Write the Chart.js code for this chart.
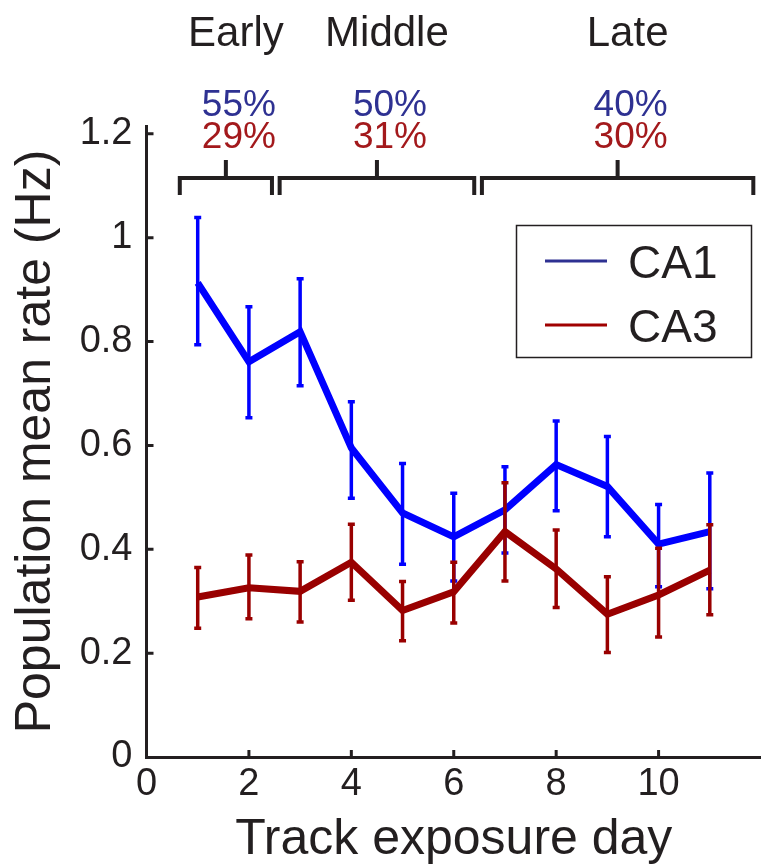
<!DOCTYPE html>
<html>
<head>
<meta charset="utf-8">
<script src="https://cdn.jsdelivr.net/npm/chart.js@4.4.1/dist/chart.umd.min.js"></script>
<style>
  html, body { margin: 0; padding: 0; background: #fff; }
</style>
</head>
<body>
<canvas id="rateChart" width="761" height="868"></canvas>
<script>
// values (mean +/- error per exposure day)
const days = [1, 2, 3, 4, 5, 6, 7, 8, 9, 10, 11];
const ca1Mean  = [0.913, 0.761, 0.819, 0.595, 0.470, 0.424, 0.476, 0.563, 0.521, 0.410, 0.434];
const ca1Upper = [1.039, 0.867, 0.921, 0.684, 0.565, 0.508, 0.559, 0.647, 0.617, 0.486, 0.547];
const ca1Lower = [0.794, 0.653, 0.715, 0.498, 0.371, 0.339, 0.393, 0.474, 0.424, 0.328, 0.324];
const ca3Mean  = [0.308, 0.326, 0.319, 0.375, 0.282, 0.318, 0.434, 0.362, 0.275, 0.312, 0.360];
const ca3Upper = [0.365, 0.389, 0.376, 0.448, 0.338, 0.375, 0.528, 0.437, 0.347, 0.402, 0.447];
const ca3Lower = [0.248, 0.266, 0.260, 0.302, 0.224, 0.258, 0.339, 0.288, 0.201, 0.231, 0.274];

const phaseNames = ['Early', 'Middle', 'Late'];
const phaseStart = [0.65, 2.6, 6.55];
const phaseEnd = [2.45, 6.4, 11.85];
const ca1Percent = ['55%', '50%', '40%'];
const ca3Percent = ['29%', '31%', '30%'];

const xTickValues = [0, 2, 4, 6, 8, 10];
const yTickValues = [0, 0.2, 0.4, 0.6, 0.8, 1, 1.2];
const yTickLabels = ['0', '0.2', '0.4', '0.6', '0.8', '1', '1.2'];

const FONT = '"Liberation Sans", Arial, Helvetica, sans-serif';
const INK = '#231f20';

const toPoints = (ys) => days.map((d, i) => ({ x: d, y: ys[i] }));

// error bars drawn right after each line so the red set sits on top of the blue one
const errorBars = {
    id: 'errorBars',
    afterDatasetDraw(chart, args) {
        const ds = chart.data.datasets[args.index];
        const xs = chart.scales.x, ys = chart.scales.y;
        const ctx = chart.ctx;
        ctx.save();
        ctx.strokeStyle = ds.borderColor;
        ctx.lineWidth = 3.5;
        ctx.lineCap = 'butt';
        ds.data.forEach((p, i) => {
            const px = xs.getPixelForValue(p.x);
            const top = ys.getPixelForValue(ds.upper[i]);
            const bot = ys.getPixelForValue(ds.lower[i]);
            ctx.beginPath();
            ctx.moveTo(px, top); ctx.lineTo(px, bot);
            ctx.moveTo(px - 3.5, top); ctx.lineTo(px + 3.5, top);
            ctx.moveTo(px - 3.5, bot); ctx.lineTo(px + 3.5, bot);
            ctx.stroke();
        });
        ctx.restore();
    }
};

// inward ticks, phase brackets, percentages and the boxed legend
const annotations = {
    id: 'annotations',
    afterDraw(chart) {
        const ctx = chart.ctx;
        const xs = chart.scales.x, ys = chart.scales.y;
        const area = chart.chartArea;
        ctx.save();
        ctx.strokeStyle = INK;
        ctx.lineWidth = 3;
        ctx.beginPath();
        yTickValues.slice(1).forEach(v => {
            const py = ys.getPixelForValue(v);
            ctx.moveTo(area.left, py); ctx.lineTo(area.left + 7, py);
        });
        xTickValues.slice(1).forEach(v => {
            const px = xs.getPixelForValue(v);
            ctx.moveTo(px, area.bottom); ctx.lineTo(px, area.bottom - 7);
        });
        ctx.stroke();

        // brackets
        const level = ys.getPixelForValue(1.115);
        ctx.lineWidth = 4;
        phaseNames.forEach((name, i) => {
            const x0 = xs.getPixelForValue(phaseStart[i]);
            const x1 = xs.getPixelForValue(phaseEnd[i]);
            const mid = (x0 + x1) / 2;
            ctx.beginPath();
            ctx.moveTo(x0, level + 17); ctx.lineTo(x0, level);
            ctx.lineTo(x1, level); ctx.lineTo(x1, level + 17);
            ctx.moveTo(mid, level); ctx.lineTo(mid, level - 18);
            ctx.stroke();

            ctx.textAlign = 'center';
            ctx.textBaseline = 'alphabetic';
            ctx.fillStyle = INK;
            ctx.font = '42px ' + FONT;
            ctx.fillText(name, mid + 10, 46);
            ctx.font = '37px ' + FONT;
            ctx.fillStyle = '#2e3192';
            ctx.fillText(ca1Percent[i], mid + 13, 116);
            ctx.fillStyle = '#a3191c';
            ctx.fillText(ca3Percent[i], mid + 13, 148);
        });

        // legend box
        ctx.lineWidth = 1.5;
        ctx.strokeStyle = INK;
        ctx.strokeRect(516.5, 225.5, 235, 132);
        const legendRows = [
            { label: chart.data.datasets[0].label, color: '#2e3192', y: 261 },
            { label: chart.data.datasets[1].label, color: '#a00000', y: 325 }
        ];
        ctx.font = '46px ' + FONT;
        ctx.textAlign = 'left';
        ctx.textBaseline = 'alphabetic';
        legendRows.forEach(r => {
            ctx.strokeStyle = r.color;
            ctx.lineWidth = 3;
            ctx.beginPath();
            ctx.moveTo(545, r.y); ctx.lineTo(607, r.y);
            ctx.stroke();
            ctx.fillStyle = INK;
            ctx.fillText(r.label, 628, r.y + 17);
        });
        ctx.restore();
    }
};

const ctx = document.getElementById('rateChart').getContext('2d');
new Chart(ctx, {
    type: 'line',
    data: {
        datasets: [
            {
                label: 'CA1',
                data: toPoints(ca1Mean),
                upper: ca1Upper,
                lower: ca1Lower,
                borderColor: '#0000ff',
                borderWidth: 7,
                pointRadius: 0,
                borderJoinStyle: 'miter',
                order: 1
            },
            {
                label: 'CA3',
                data: toPoints(ca3Mean),
                upper: ca3Upper,
                lower: ca3Lower,
                borderColor: '#990000',
                borderWidth: 7,
                pointRadius: 0,
                borderJoinStyle: 'miter',
                order: 0
            }
        ]
    },
    options: {
        responsive: false,
        animation: false,
        layout: { padding: { top: 126, right: 0, left: 0, bottom: 0 } },
        plugins: {
            legend: { display: false },
            tooltip: { enabled: false }
        },
        scales: {
            x: {
                type: 'linear',
                min: 0,
                max: 12,
                afterBuildTicks: s => { s.ticks = xTickValues.map(v => ({ value: v })); },
                afterFit: s => { s.height = 111; },
                grid: { display: false, drawTicks: false },
                border: { display: true, color: INK, width: 3 },
                ticks: {
                    autoSkip: false, maxRotation: 0, padding: 5,
                    color: INK, font: { family: FONT, size: 38 }
                },
                title: {
                    display: true, text: 'Track exposure day', color: INK,
                    font: { family: FONT, size: 50, lineHeight: 1.1 },
                    padding: { top: 0, bottom: 0 }
                }
            },
            y: {
                min: 0,
                max: 1.215,
                afterBuildTicks: s => { s.ticks = yTickValues.map(v => ({ value: v })); },
                afterFit: s => { s.width = 146.5; },
                grid: { display: false, drawTicks: false },
                border: { display: true, color: INK, width: 3 },
                ticks: {
                    padding: 14, color: INK, font: { family: FONT, size: 38 },
                    callback: (v, i) => yTickLabels[i]
                },
                title: {
                    display: true, text: 'Population mean rate (Hz)', color: INK,
                    font: { family: FONT, size: 50, lineHeight: 1.2 },
                    padding: { top: 6, bottom: 0 }
                }
            }
        }
    },
    plugins: [errorBars, annotations]
});
</script>
</body>
</html>
